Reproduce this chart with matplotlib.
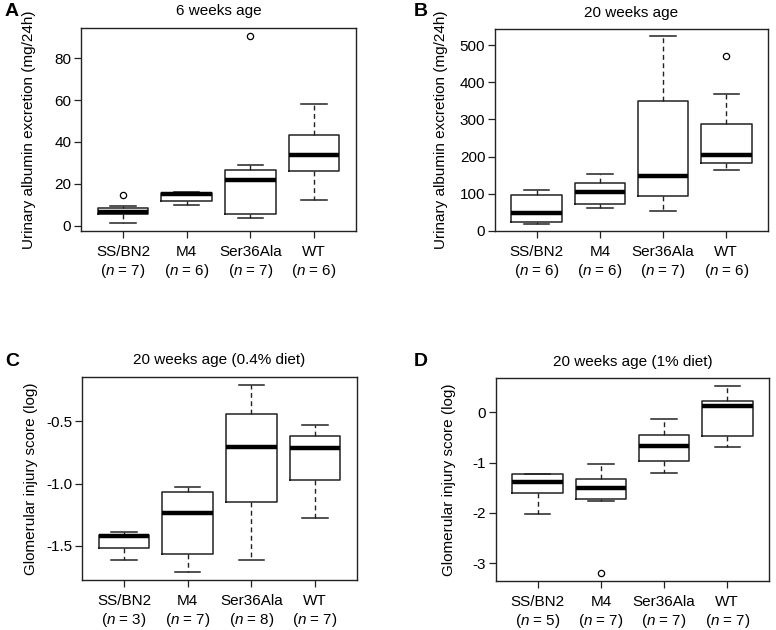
import matplotlib
matplotlib.use("Agg")
import matplotlib.pyplot as plt

plt.rcParams["font.family"] = ["Liberation Sans", "DejaVu Sans"]
plt.rcParams["axes.unicode_minus"] = False
plt.rcParams["mathtext.fontset"] = "custom"
plt.rcParams["mathtext.it"] = "Liberation Sans:italic"
plt.rcParams["mathtext.rm"] = "Liberation Sans"

GROUPS = ["SS/BN2", "M4", "Ser36Ala", "WT"]

# A: 6 weeks age, urinary albumin (mg/24h)
A_N = [7, 6, 7, 6]
A_LO = [1.1, 10.0, 3.5, 12.1]
A_Q1 = [5.6, 12.0, 5.6, 26.1]
A_MED = [6.4, 15.1, 21.8, 33.8]
A_Q3 = [8.3, 15.8, 26.8, 43.5]
A_HI = [9.6, 16.3, 29.0, 58.0]
A_FLIERS = [[14.5], [], [90.8], []]
A_YTICKS = [0, 20, 40, 60, 80]

# B: 20 weeks age, urinary albumin (mg/24h)
B_N = [6, 6, 7, 6]
B_LO = [19.7, 60.8, 52.8, 163.7]
B_Q1 = [24.0, 71.6, 94.8, 181.6]
B_MED = [49.0, 105.5, 148.5, 204.0]
B_Q3 = [95.7, 130.0, 350.6, 287.0]
B_HI = [110.0, 154.0, 523.0, 368.5]
B_FLIERS = [[], [], [], [470.5]]
B_YTICKS = [0, 100, 200, 300, 400, 500]

# C: 20 weeks age (0.4% diet), glomerular injury score (log)
C_N = [3, 7, 8, 7]
C_LO = [-1.613, -1.715, -1.613, -1.277]
C_Q1 = [-1.519, -1.567, -1.151, -0.973]
C_MED = [-1.425, -1.239, -0.704, -0.715]
C_Q3 = [-1.417, -1.070, -0.441, -0.621]
C_HI = [-1.387, -1.024, -0.204, -0.530]
C_FLIERS = [[], [], [], []]
C_YTICKS = [-1.5, -1.0, -0.5]

# D: 20 weeks age (1% diet), glomerular injury score (log)
D_N = [5, 7, 7, 7]
D_LO = [-2.03, -1.77, -1.204, -0.685]
D_Q1 = [-1.61, -1.717, -0.965, -0.466]
D_MED = [-1.384, -1.497, -0.679, 0.126]
D_Q3 = [-1.237, -1.331, -0.459, 0.22]
D_HI = [-1.237, -1.038, -0.126, 0.532]
D_FLIERS = [[], [-3.207], [], []]
D_YTICKS = [-3, -2, -1, 0]

W, H = 776, 630


def panel(rect, letter, lxy, title, ylabel, n, lo, q1, med, q3, hi, fliers,
          yticks, yfmt, ylab_x):
    ax = fig.add_axes(rect)
    stats = []
    for i in range(len(GROUPS)):
        stats.append(dict(whislo=lo[i], q1=q1[i], med=med[i], q3=q3[i],
                          whishi=hi[i], fliers=fliers[i]))
    ax.bxp(stats, positions=range(1, 5), widths=0.8, capwidths=0.4,
           boxprops=dict(color="#222222", lw=1.1),
           whiskerprops=dict(color="#222222", lw=1.0, ls=(0, (3.5, 2.5))),
           capprops=dict(color="#222222", lw=1.1),
           medianprops=dict(color="black", lw=3.2, solid_capstyle="butt"),
           flierprops=dict(marker="o", mfc="none", mec="black", ms=4.5,
                           mew=0.9))
    # R-style 4% padding around the data range
    vals = lo + hi + [v for f in fliers for v in f]
    dmin, dmax = min(vals), max(vals)
    pad = 0.04 * (dmax - dmin)
    ax.set_ylim(dmin - pad, dmax + pad)
    ax.set_xlim(0.34, 4.66)
    ax.set_yticks(yticks)
    ax.set_yticklabels([yfmt.format(v) for v in yticks])
    ax.set_xticks(range(1, 5))
    ax.set_xticklabels([f"{g}\n($\\mathit{{n}}$ = {k})" for g, k in zip(GROUPS, n)],
                       linespacing=1.25)
    ax.tick_params(axis="both", direction="out", length=5, width=0.9,
                   labelsize=11, colors="#222222", labelcolor="black")
    ax.tick_params(axis="x", pad=5)
    ax.tick_params(axis="y", pad=2)
    for s in ax.spines.values():
        s.set_linewidth(1.0)
        s.set_color("#222222")
    ax.set_title(title, fontsize=11, pad=9)
    ax.set_ylabel(ylabel, fontsize=11)
    ax.yaxis.set_label_coords(ylab_x, rect[1] + rect[3] / 2,
                              transform=fig.transFigure)
    fig.text(lxy[0] / W, 1 - lxy[1] / H, letter, fontsize=14, fontweight="heavy",
             ha="left", va="center")
    return ax


fig = plt.figure(figsize=(W / 100, H / 100), dpi=100)

panel([81 / W, 1 - 231 / H, 275 / W, 203 / H], "A", (5, 12), "6 weeks age",
      "Urinary albumin excretion (mg/24h)", A_N, A_LO, A_Q1, A_MED, A_Q3, A_HI,
      A_FLIERS, A_YTICKS, "{:d}", 36 / W)
panel([495 / W, 1 - 231 / H, 273 / W, 202 / H], "B", (414, 12), "20 weeks age",
      "Urinary albumin excretion (mg/24h)", B_N, B_LO, B_Q1, B_MED, B_Q3, B_HI,
      B_FLIERS, B_YTICKS, "{:d}", 448 / W)
panel([82 / W, 1 - 580 / H, 275 / W, 203 / H], "C", (5, 362),
      "20 weeks age (0.4% diet)", "Glomerular injury score (log)",
      C_N, C_LO, C_Q1, C_MED, C_Q3, C_HI, C_FLIERS, C_YTICKS, "{:.1f}", 38 / W)
panel([496 / W, 1 - 581 / H, 273 / W, 203 / H], "D", (414, 362),
      "20 weeks age (1% diet)", "Glomerular injury score (log)",
      D_N, D_LO, D_Q1, D_MED, D_Q3, D_HI, D_FLIERS, D_YTICKS, "{:d}", 456 / W)

fig.savefig("out.png", dpi=100)
